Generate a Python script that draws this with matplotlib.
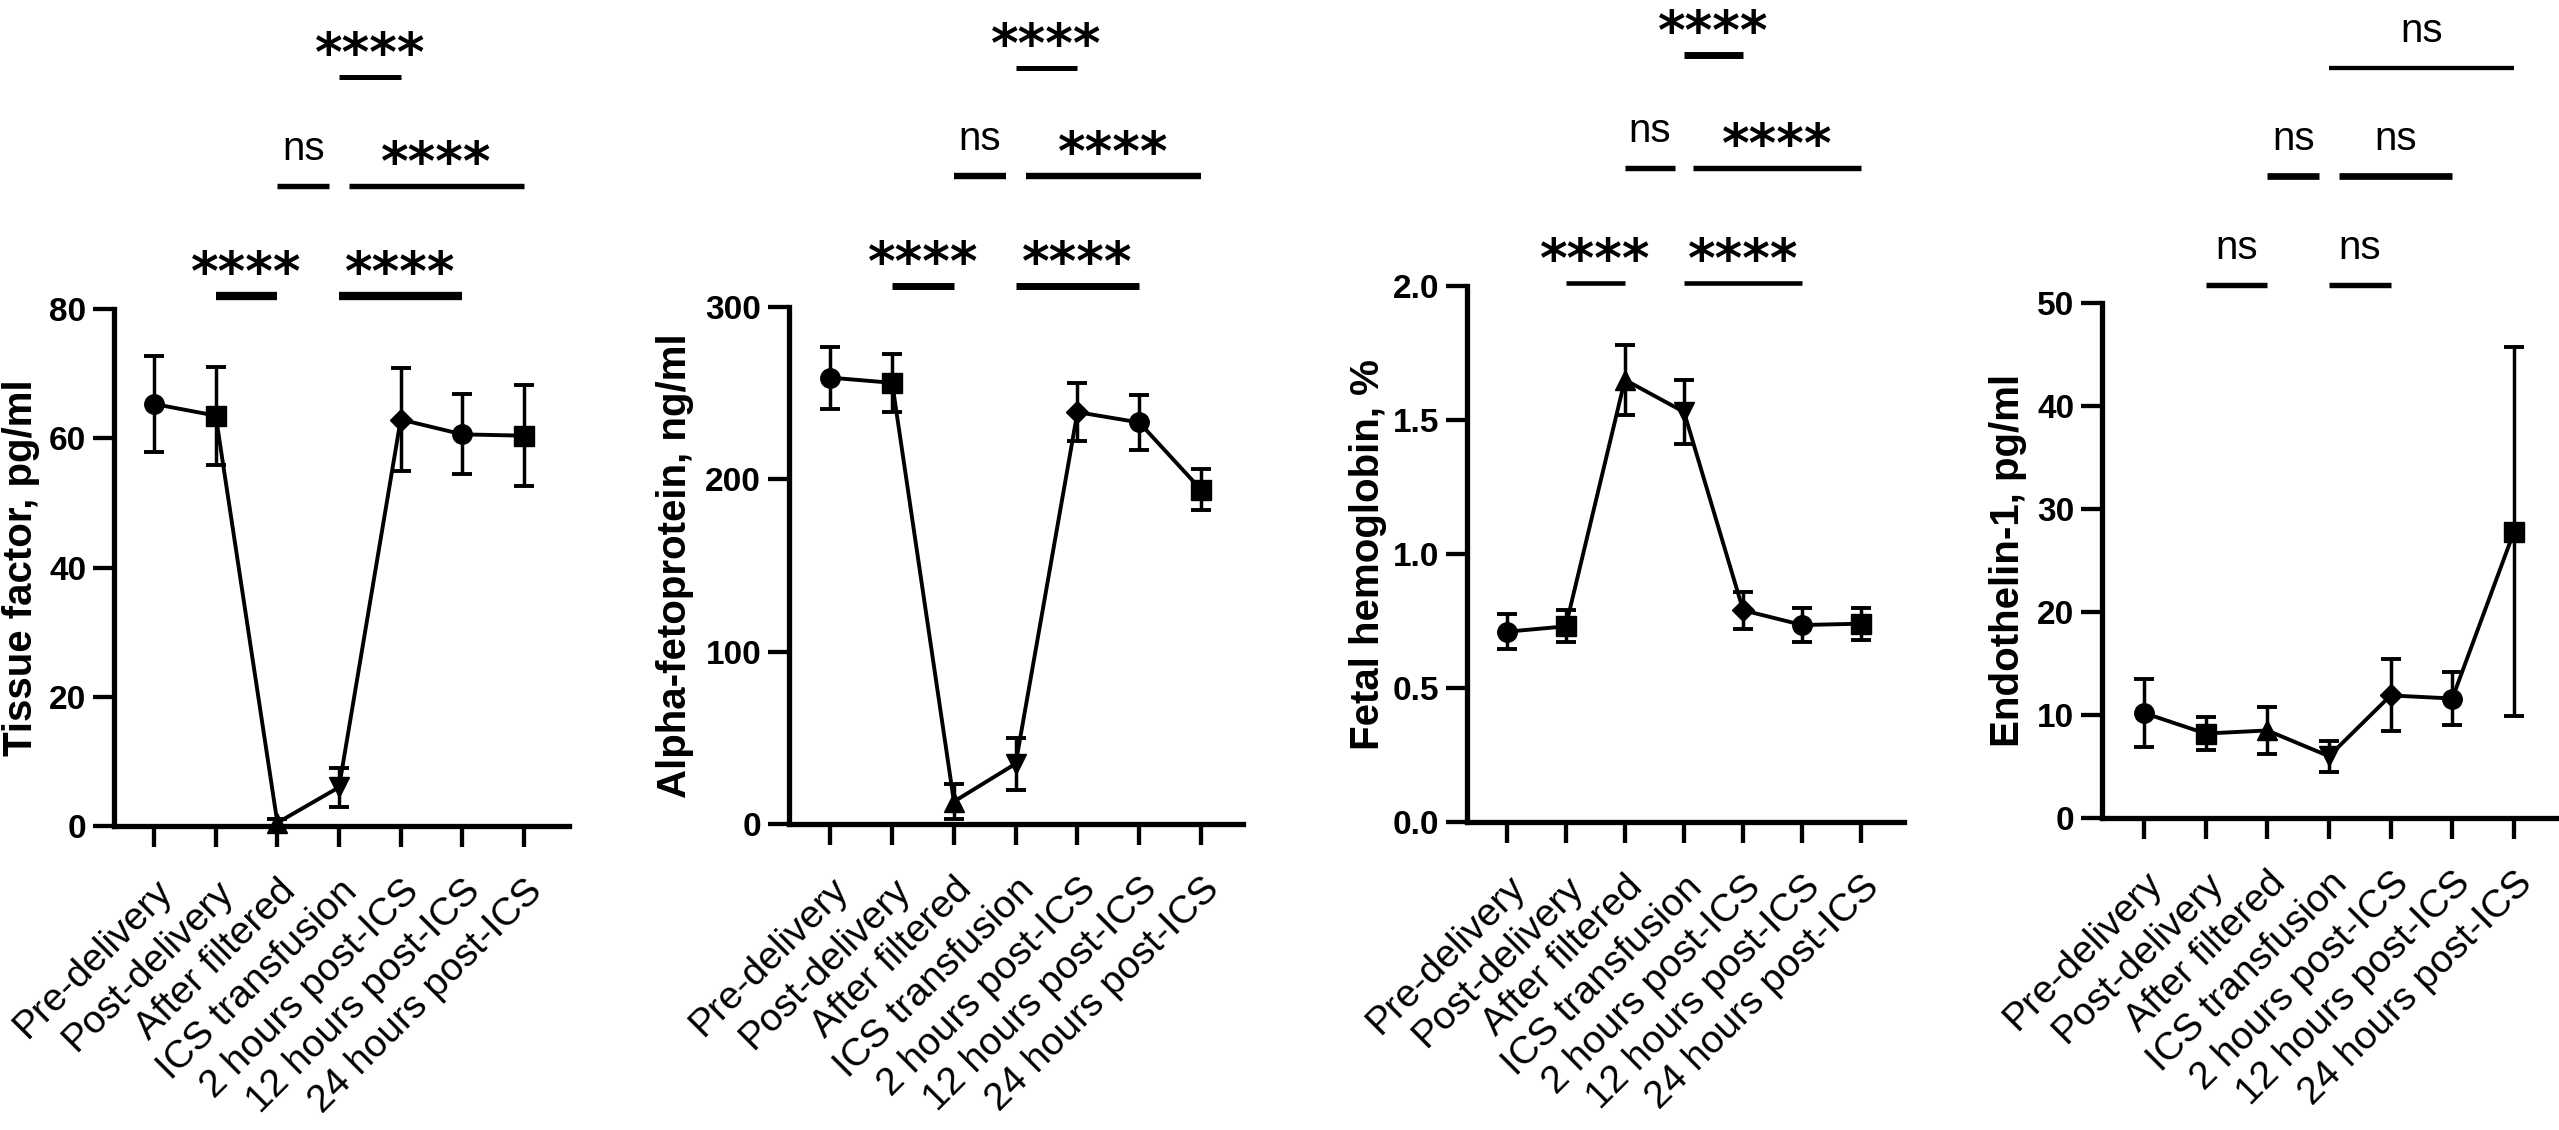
import matplotlib
matplotlib.use("Agg")
import matplotlib.pyplot as plt
from matplotlib import transforms

plt.rcParams['font.family'] = ['Liberation Sans', 'DejaVu Sans']

W, H = 2559, 1130  # output size in pixels (dpi 100)

timepoints = ["Pre-delivery", "Post-delivery", "After filtered", "ICS transfusion",
              "2 hours post-ICS", "12 hours post-ICS", "24 hours post-ICS"]
group_markers = ["o", "s", "^", "v", "D", "o", "s"]

# mean +/- error
tissue_factor = [65.3, 63.5, 0.5, 6.0, 62.9, 60.6, 60.4]
tissue_factor_err = [7.5, 7.6, 0.6, 3.0, 8.0, 6.2, 7.8]
afp = [259, 256, 13, 35, 239, 233, 194]
afp_err = [18, 17, 10, 15, 17, 16, 12]
fetal_hb = [0.71, 0.73, 1.65, 1.53, 0.79, 0.735, 0.74]
fetal_hb_err = [0.065, 0.06, 0.13, 0.12, 0.07, 0.065, 0.06]
endothelin = [10.2, 8.2, 8.5, 6.0, 11.9, 11.6, 27.8]
endothelin_err = [3.3, 1.6, 2.3, 1.5, 3.5, 2.6, 17.9]

# pairwise comparisons, three rows above each panel: (group a, group b, label)
tf_sig = [[(1, 2, "****"), (3, 5, "****")],
          [(2, 3, "ns"), (3, 6, "****")],
          [(3, 4, "****")]]
afp_sig = [[(1, 2, "****"), (3, 5, "****")],
           [(2, 3, "ns"), (3, 6, "****")],
           [(3, 4, "****")]]
hb_sig = [[(1, 2, "****"), (3, 5, "****")],
          [(2, 3, "ns"), (3, 6, "****")],
          [(3, 4, "****")]]
et_sig = [[(1, 2, "ns"), (3, 4, "ns")],
          [(2, 3, "ns"), (3, 5, "ns")],
          [(3, 6, "ns")]]

panels = [
    dict(mean=tissue_factor, err=tissue_factor_err, ylabel="Tissue factor, pg/ml",
         ylim=(0, 80), yticks=[0, 20, 40, 60, 80], fmt="{:.0f}", sig=tf_sig,
         rect=(114, 569, 309, 826), xlim=(-0.65, 6.73), label_x=40,
         rows=(296, 186, 77), row_lw=(6.0, 3.9, 3.6)),
    dict(mean=afp, err=afp_err, ylabel="Alpha-fetoprotein, ng/ml",
         ylim=(0, 300), yticks=[0, 100, 200, 300], fmt="{:.0f}", sig=afp_sig,
         rect=(789, 1243, 307, 824), xlim=(-0.67, 6.68), label_x=694,
         rows=(286, 176, 68), row_lw=(5.0, 4.6, 3.6)),
    dict(mean=fetal_hb, err=fetal_hb_err, ylabel="Fetal hemoglobin, %",
         ylim=(0, 2.0), yticks=[0, 0.5, 1.0, 1.5, 2.0], fmt="{:.1f}", sig=hb_sig,
         rect=(1467, 1904, 286, 822), xlim=(-0.67, 6.72), label_x=1387,
         rows=(283, 168, 55), row_lw=(3.3, 3.9, 5.0)),
    dict(mean=endothelin, err=endothelin_err, ylabel="Endothelin-1, pg/ml",
         ylim=(0, 50), yticks=[0, 10, 20, 30, 40, 50], fmt="{:.0f}", sig=et_sig,
         rect=(2102, 2559, 303, 818), xlim=(-0.68, 6.73), label_x=2027,
         rows=(285, 176, 68), row_lw=(3.9, 4.8, 3.1)),
]

fig = plt.figure(figsize=(W / 100, H / 100), dpi=100)

for p in panels:
    l, r, t, b = p["rect"]
    ax = fig.add_axes([l / W, 1 - b / H, (r - l) / W, (b - t) / H])
    x = list(range(len(timepoints)))
    ax.plot(x, p["mean"], color="black", lw=2.8, zorder=3, clip_on=False)
    for xi, m, e, mk in zip(x, p["mean"], p["err"], group_markers):
        ax.errorbar(xi, m, yerr=e, fmt=mk, color="black", ms=14 if mk != "D" else 11,
                    elinewidth=2.5, capsize=7, capthick=2.8, zorder=4, clip_on=False)
    ax.set_xlim(*p["xlim"])
    ax.set_ylim(*p["ylim"])
    ax.set_yticks(p["yticks"])
    ax.set_yticklabels([p["fmt"].format(v) for v in p["yticks"]],
                       fontsize=24, fontweight="bold")
    ax.set_xticks(x)
    ax.set_xticklabels(timepoints, rotation=45, ha="right", rotation_mode="anchor",
                       fontsize=28)
    for s in ("top", "right"):
        ax.spines[s].set_visible(False)
    for s in ("left", "bottom"):
        ax.spines[s].set_linewidth(3.8)
    ax.tick_params(axis="y", length=15, width=3.1, pad=5)
    ax.tick_params(axis="x", length=15, width=3.1, pad=19)
    ax.set_ylabel(p["ylabel"], fontsize=29, fontweight="bold")
    ax.yaxis.set_label_coords((p["label_x"] - l) / (r - l), 0.5)

    # significance bars in data-x / figure-y coordinates
    tr = transforms.blended_transform_factory(ax.transData, fig.transFigure)
    for row, ypx, lw in zip(p["sig"], p["rows"], p["row_lw"]):
        starts = [a for a, _, _ in row]
        ends = [bb for _, bb, _ in row]
        for a, bb, lab in row:
            x0 = a + 0.16 if a in ends else a
            x1 = bb - 0.16 if bb in starts else bb
            yf = 1 - ypx / H
            ax.plot([x0, x1], [yf, yf], color="black", lw=lw, transform=tr,
                    clip_on=False, solid_capstyle="butt")
            if lab == "ns":
                ax.annotate(lab, ((x0 + x1) / 2, yf), xycoords=tr, xytext=(0, 19),
                            textcoords="offset points", ha="center", va="baseline",
                            fontsize=29, annotation_clip=False)
            else:
                ax.annotate(lab, ((x0 + x1) / 2, yf), xycoords=tr, xytext=(0, 4),
                            textcoords="offset points", ha="center", va="baseline",
                            fontsize=38, fontweight="bold", family="DejaVu Sans",
                            annotation_clip=False)

fig.savefig("out.png", dpi=100)
